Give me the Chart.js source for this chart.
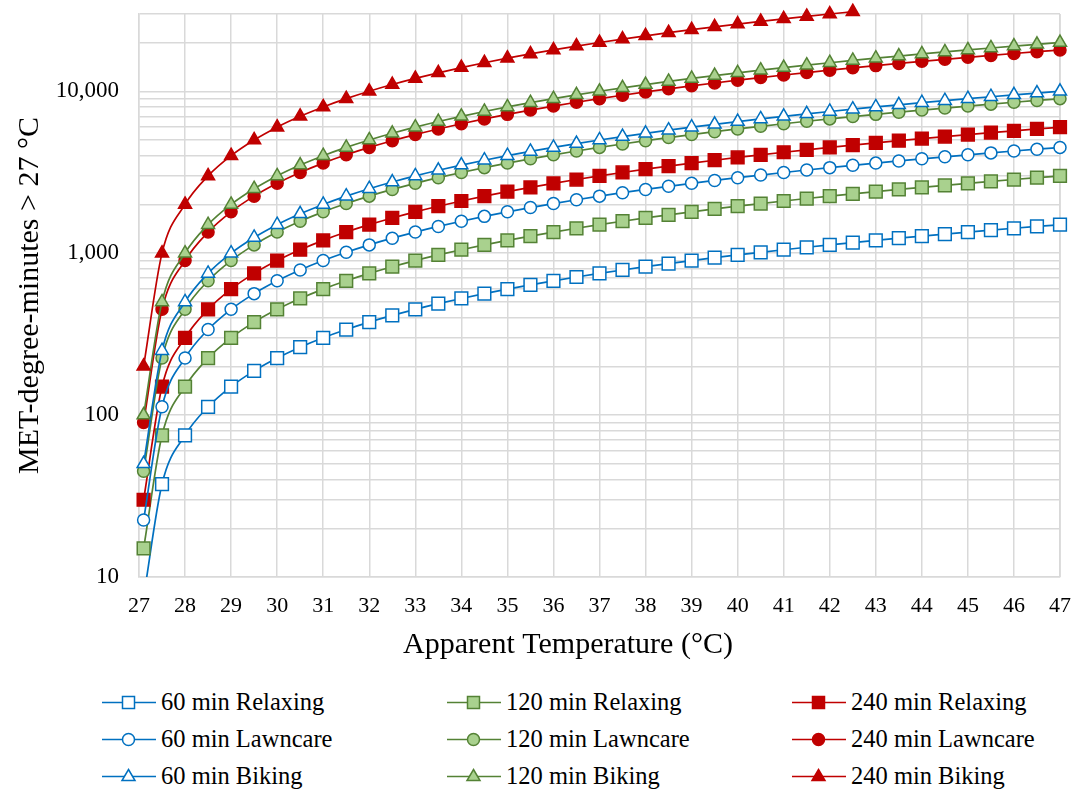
<!DOCTYPE html>
<html>
<head>
<meta charset="utf-8">
<script src="https://cdn.jsdelivr.net/npm/chart.js@4/dist/chart.umd.min.js"></script>
<style>
  html, body { margin: 0; padding: 0; background: #fff; }
  #wrap { position: relative; width: 1075px; height: 791px; font-family: "Liberation Serif", "Times New Roman", serif; }
  #box { position: absolute; left: 0; top: 0; width: 1075px; height: 666px; }
  .lg { position: absolute; display: flex; align-items: center; font-size: 24.5px; color: #000; white-space: nowrap; }
  .lg svg { margin-right: 5px; }
</style>
</head>
<body>
<div id="wrap">
  <div id="box"><canvas id="c"></canvas></div>
  <div id="legend"></div>
</div>
<script>
// apparent temperature (°C) — first point sits just right of 27
const temps = [27.1, 27.5, 28, 28.5, 29, 29.5, 30, 30.5, 31, 31.5, 32, 32.5, 33, 33.5, 34, 34.5, 35, 35.5, 36, 36.5,
  37, 37.5, 38, 38.5, 39, 39.5, 40, 40.5, 41, 41.5, 42, 42.5, 43, 43.5, 44, 44.5, 45, 45.5, 46, 46.5, 47];

const relax60 = [7.5, 37.5, 75, 112.5, 150, 187.5, 225, 262.5, 300, 337.5, 375, 412.5, 450, 487.5, 525, 562.5, 600, 637.5, 675, 712.5,
  750, 787.5, 825, 862.5, 900, 937.5, 975, 1012.5, 1050, 1087.5, 1125, 1162.5, 1200, 1237.5, 1275, 1312.5, 1350, 1387.5, 1425, 1462.5, 1500];
const relax120 = [15, 75, 150, 225, 300, 375, 450, 525, 600, 675, 750, 825, 900, 975, 1050, 1125, 1200, 1275, 1350, 1425,
  1500, 1575, 1650, 1725, 1800, 1875, 1950, 2025, 2100, 2175, 2250, 2325, 2400, 2475, 2550, 2625, 2700, 2775, 2850, 2925, 3000];
const relax240 = [30, 150, 300, 450, 600, 750, 900, 1050, 1200, 1350, 1500, 1650, 1800, 1950, 2100, 2250, 2400, 2550, 2700, 2850,
  3000, 3150, 3300, 3450, 3600, 3750, 3900, 4050, 4200, 4350, 4500, 4650, 4800, 4950, 5100, 5250, 5400, 5550, 5700, 5850, 6000];
const lawn60 = [22.5, 112.5, 225, 337.5, 450, 562.5, 675, 787.5, 900, 1012.5, 1125, 1237.5, 1350, 1462.5, 1575, 1687.5, 1800, 1912.5, 2025, 2137.5,
  2250, 2362.5, 2475, 2587.5, 2700, 2812.5, 2925, 3037.5, 3150, 3262.5, 3375, 3487.5, 3600, 3712.5, 3825, 3937.5, 4050, 4162.5, 4275, 4387.5, 4500];
const lawn120 = [45, 225, 450, 675, 900, 1125, 1350, 1575, 1800, 2025, 2250, 2475, 2700, 2925, 3150, 3375, 3600, 3825, 4050, 4275,
  4500, 4725, 4950, 5175, 5400, 5625, 5850, 6075, 6300, 6525, 6750, 6975, 7200, 7425, 7650, 7875, 8100, 8325, 8550, 8775, 9000];
const lawn240 = [90, 450, 900, 1350, 1800, 2250, 2700, 3150, 3600, 4050, 4500, 4950, 5400, 5850, 6300, 6750, 7200, 7650, 8100, 8550,
  9000, 9450, 9900, 10350, 10800, 11250, 11700, 12150, 12600, 13050, 13500, 13950, 14400, 14850, 15300, 15750, 16200, 16650, 17100, 17550, 18000];
const bike60 = [50, 250, 500, 750, 1000, 1250, 1500, 1750, 2000, 2250, 2500, 2750, 3000, 3250, 3500, 3750, 4000, 4250, 4500, 4750,
  5000, 5250, 5500, 5750, 6000, 6250, 6500, 6750, 7000, 7250, 7500, 7750, 8000, 8250, 8500, 8750, 9000, 9250, 9500, 9750, 10000];
const bike120 = [100, 500, 1000, 1500, 2000, 2500, 3000, 3500, 4000, 4500, 5000, 5500, 6000, 6500, 7000, 7500, 8000, 8500, 9000, 9500,
  10000, 10500, 11000, 11500, 12000, 12500, 13000, 13500, 14000, 14500, 15000, 15500, 16000, 16500, 17000, 17500, 18000, 18500, 19000, 19500, 20000];
// 240 min biking runs off the top of the axis after 42.5
const bike240 = [200, 1000, 2000, 3000, 4000, 5000, 6000, 7000, 8000, 9000, 10000, 11000, 12000, 13000, 14000, 15000, 16000, 17000, 18000, 19000,
  20000, 21000, 22000, 23000, 24000, 25000, 26000, 27000, 28000, 29000, 30000, 31000];

const yTicks = [10, 20, 30, 40, 50, 60, 70, 80, 90, 100, 200, 300, 400, 500, 600, 700, 800, 900,
  1000, 2000, 3000, 4000, 5000, 6000, 7000, 8000, 9000, 10000, 20000, 30000];

const X_TITLE = "Apparent Temperature (°C)";
const Y_TITLE = "MET-degree-minutes > 27 °C";

const BLUE = "#0070c0", GREEN = "#548235", GFILL = "#a9d18e", RED = "#c00000";
const STY = {
  60:  { line: BLUE, fill: "#ffffff", edge: BLUE },
  120: { line: GREEN, fill: GFILL, edge: GREEN },
  240: { line: RED, fill: RED, edge: RED },
};
const SHAPE = { Relaxing: ["rect", 9], Lawncare: ["circle", 6], Biking: ["triangle", 7.5] };

// Excel series order (legend reads row by row)
const series = [
  ["60 min Relaxing", 60, "Relaxing", relax60], ["120 min Relaxing", 120, "Relaxing", relax120], ["240 min Relaxing", 240, "Relaxing", relax240],
  ["60 min Lawncare", 60, "Lawncare", lawn60], ["120 min Lawncare", 120, "Lawncare", lawn120], ["240 min Lawncare", 240, "Lawncare", lawn240],
  ["60 min Biking", 60, "Biking", bike60], ["120 min Biking", 120, "Biking", bike120], ["240 min Biking", 240, "Biking", bike240],
];

const datasets = series.map(([label, dur, act, vals], i) => {
  const s = STY[dur], sh = SHAPE[act];
  return {
    label, data: vals.map((v, k) => ({ x: temps[k], y: v })),
    borderColor: s.line, borderWidth: 1.7, backgroundColor: s.fill,
    pointStyle: sh[0], pointRadius: sh[1], pointBackgroundColor: s.fill,
    pointBorderColor: s.edge, pointBorderWidth: 1.5,
    cubicInterpolationMode: "monotone", order: 20 - i,
    clip: { left: 14, right: 14, top: 14, bottom: 0 },
  };
});

const GRID = "#d9d9d9";
const serif = "'Liberation Serif', 'Times New Roman', serif";

new Chart(document.getElementById("c"), {
  type: "line",
  data: { datasets },
  options: {
    responsive: true, maintainAspectRatio: false, animation: false,
    layout: { padding: { top: 14, right: 15, left: 0, bottom: 0 } },
    plugins: { legend: { display: false }, tooltip: { enabled: false } },
    scales: {
      x: {
        type: "linear", min: 27, max: 47,
        ticks: { stepSize: 1, color: "#000", font: { family: serif, size: 22 }, padding: 16 },
        grid: { color: GRID, lineWidth: 1.5, drawTicks: false },
        border: { color: GRID, width: 1.5 },
        title: { display: false, text: X_TITLE },
        afterFit(sc) { sc.height = 89; sc.paddingLeft = 0; sc.paddingRight = 0; },
      },
      y: {
        type: "logarithmic", min: 10, max: 30000,
        afterBuildTicks(sc) { sc.ticks = yTicks.map(v => ({ value: v })); },
        ticks: {
          autoSkip: false, color: "#000", font: { family: serif, size: 23 }, padding: 20,
          callback(v) { const l = Math.log10(v); return Math.abs(l - Math.round(l)) < 1e-9 ? v.toLocaleString("en-US") : ""; },
        },
        grid: { color: GRID, lineWidth: 1.5, drawTicks: false },
        border: { color: GRID, width: 1.5 },
        title: { display: true, text: Y_TITLE, color: "#000", font: { family: serif, size: 30 }, padding: { top: 12, bottom: 0 } },
        afterFit(sc) { sc.width = 139; sc.paddingTop = 0; sc.paddingBottom = 0; },
      },
    },
  },
  plugins: [{
    id: "frameAndTitle",
    beforeDatasetsDraw(ch) {
      const a = ch.chartArea, ctx = ch.ctx;
      ctx.save(); ctx.strokeStyle = GRID; ctx.lineWidth = 1.5;
      ctx.beginPath(); ctx.moveTo(a.right, a.top); ctx.lineTo(a.right, a.bottom); ctx.stroke();
      ctx.restore();
    },
    // x title sits a little left of the plot centre, as in the source figure
    afterDraw(ch) {
      const ctx = ch.ctx;
      ctx.save();
      ctx.font = "30px " + serif; ctx.fillStyle = "#000";
      ctx.textAlign = "center"; ctx.textBaseline = "middle";
      ctx.fillText(X_TITLE, 568, 645);
      ctx.restore();
    },
  }],
});

// legend: three columns (duration) by three rows (activity)
const colX = { 60: 102, 120: 447, 240: 792 };
const rowY = { Relaxing: 702, Lawncare: 739, Biking: 776 };
function markerSvg(dur, act) {
  const s = STY[dur];
  let m;
  if (act === "Relaxing") m = `<rect x="20.5" y="6.5" width="12" height="12" fill="${s.fill}" stroke="${s.edge}" stroke-width="1.5"/>`;
  else if (act === "Lawncare") m = `<circle cx="26.5" cy="12.5" r="6" fill="${s.fill}" stroke="${s.edge}" stroke-width="1.5"/>`;
  else m = `<polygon points="26.5,5.5 33,16.5 20,16.5" fill="${s.fill}" stroke="${s.edge}" stroke-width="1.5"/>`;
  return `<svg width="54" height="25" viewBox="0 0 54 25"><line x1="0" y1="12.5" x2="54" y2="12.5" stroke="${s.line}" stroke-width="1.6"/>${m}</svg>`;
}
const lg = document.getElementById("legend");
series.forEach(([label, dur, act]) => {
  const d = document.createElement("div");
  d.className = "lg";
  d.style.left = colX[dur] + "px";
  d.style.top = (rowY[act] - 14) + "px";
  d.innerHTML = markerSvg(dur, act) + `<span>${label}</span>`;
  lg.appendChild(d);
});
</script>
</body>
</html>
